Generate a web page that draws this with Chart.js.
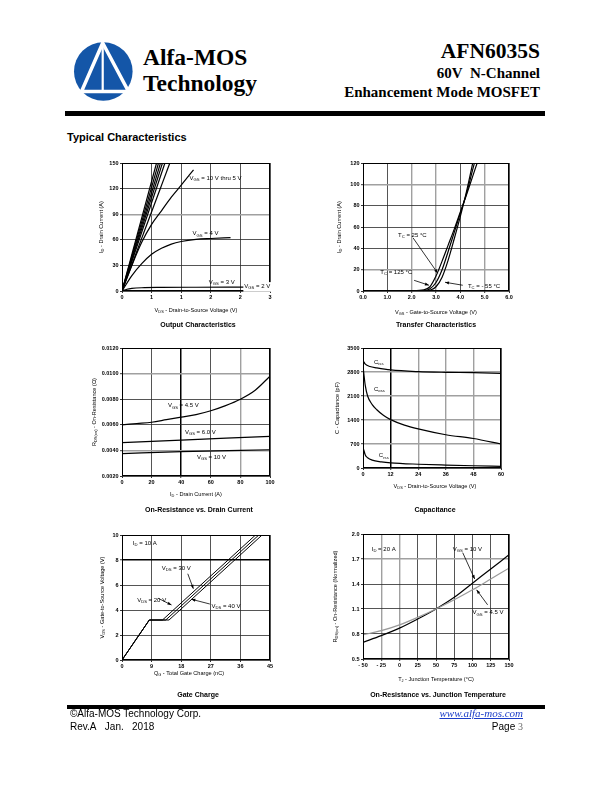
<!DOCTYPE html>
<html>
<head>
<meta charset="utf-8">
<script src="https://cdn.jsdelivr.net/npm/chart.js@4.4.0/dist/chart.umd.min.js"></script>
<style>
  body { margin: 0; width: 612px; height: 792px; position: relative; background: #fff; font-family: "Liberation Sans", Arial, sans-serif; color: #000; }
  .abs { position: absolute; white-space: nowrap; }
  .ser { font-family: "Liberation Serif", "Times New Roman", serif; font-weight: bold; }
  .cap { position: absolute; white-space: nowrap; font-weight: bold; font-size: 7px; line-height: 8px; transform: translate(-50%, -50%); }
  .box { position: absolute; }
</style>
</head>
<body>

<!-- header -->
<svg class="abs" style="left:70px;top:38px" width="70" height="70">
  <circle cx="33.3" cy="33.5" r="29.3" fill="#1456a8"/>
  <polygon points="32.7,5 11.5,53.5 58.5,53.5" fill="none" stroke="#fff" stroke-width="3.5" stroke-linejoin="miter"/>
  <line x1="32.7" y1="5" x2="32.7" y2="53.5" stroke="#fff" stroke-width="2.2"/>
</svg>
<div class="abs ser" style="left:143px;top:46px;font-size:23.5px;line-height:23.5px">Alfa-MOS</div>
<div class="abs ser" style="left:143px;top:72px;font-size:23.5px;line-height:23.5px">Technology</div>
<div class="abs ser" style="right:72px;top:41px;font-size:21.5px;line-height:21.5px">AFN6035S</div>
<div class="abs ser" style="right:72px;top:66px;font-size:15px;line-height:15px">60V&nbsp; N-Channel</div>
<div class="abs ser" style="right:72px;top:85px;font-size:15px;line-height:15px">Enhancement Mode MOSFET</div>
<div class="abs" style="left:65px;top:111px;width:480px;height:5px;background:#000"></div>
<div class="abs" style="left:67px;top:132px;font-size:11px;line-height:11px;font-weight:bold">Typical Characteristics</div>

<!-- charts -->
<div class="box" id="b1"><canvas id="c1"></canvas></div>
<div class="box" id="b2"><canvas id="c2"></canvas></div>
<div class="box" id="b3"><canvas id="c3"></canvas></div>
<div class="box" id="b4"><canvas id="c4"></canvas></div>
<div class="box" id="b5"><canvas id="c5"></canvas></div>
<div class="box" id="b6"><canvas id="c6"></canvas></div>

<div class="cap" style="left:198px;top:325px">Output Characteristics</div>
<div class="cap" style="left:436px;top:325px">Transfer Characteristics</div>
<div class="cap" style="left:199px;top:510px">On-Resistance vs. Drain Current</div>
<div class="cap" style="left:435px;top:510px">Capacitance</div>
<div class="cap" style="left:198px;top:695px">Gate Charge</div>
<div class="cap" style="left:438px;top:695px">On-Resistance vs. Junction Temperature</div>

<!-- footer -->
<div class="abs" style="left:67px;top:705px;width:478px;height:4px;background:#000"></div>
<div class="abs" style="left:70px;top:709px;font-size:10px;line-height:10px">©Alfa-MOS Technology Corp.</div>
<div class="abs" style="left:70px;top:722px;font-size:10px;line-height:10px">Rev.A&nbsp;&nbsp; Jan.&nbsp;&nbsp; 2018</div>
<div class="abs" style="right:89px;top:708px;font-size:11px;line-height:11px;font-family:'Liberation Serif',serif;font-style:italic;color:#1a3cc8;text-decoration:underline">www.alfa-mos.com</div>
<div class="abs" style="right:89px;top:722px;font-size:10px;line-height:10px">Page <span style="font-family:'Liberation Serif',serif;color:#666">3</span></div>

<script>
// --- Output Characteristics ---
const outSteepVds = [0.70, 0.74, 0.78, 0.82, 0.87, 0.97]; // VGS 10 V .. 5.5 V lines, each reaching 150 A
const outSteepId = [0, 150];
const outVds5 = [0, 0.2, 0.4, 0.6, 0.8, 1.0, 1.2, 1.45];
const outId5 = [0, 30, 57, 78, 94, 110, 124, 142];
const outVds4 = [0, 0.2, 0.4, 0.6, 0.8, 1.0, 1.2, 1.5, 1.8, 2.2];
const outId4 = [0, 18, 32, 43, 50, 55, 58, 60.5, 61.5, 62.5];
const outVds3 = [0, 0.1, 0.2, 0.4, 0.8, 1.5, 2.5];
const outId3 = [0, 2, 3, 3.8, 4.2, 4.4, 4.5];
const outVds2 = [0, 2.9];
const outId2 = [0.2, 0.3];
const outXTicks = [0, 0.6, 1.2, 1.8, 2.4, 3.0];
const outYTicks = [0, 30, 60, 90, 120, 150];

// --- Transfer Characteristics ---
const trVgs = [0, 1, 2, 2.5, 2.75, 3, 3.25, 3.5, 3.75, 4, 4.25, 4.5, 4.75];
const trId125 = [0, 0, 0.2, 1, 4, 14, 28, 43, 58, 74, 90, 107, 124];
const trId25 = [0, 0, 0.05, 0.3, 2, 8, 20, 37, 55, 73, 91, 113, 135];
const trIdM55 = [0, 0, 0, 0.1, 0.8, 4, 13, 29, 49, 70, 93, 119, 146];
const trXTicks = [0, 1, 2, 3, 4, 5, 6];
const trYTicks = [0, 20, 40, 60, 80, 100, 120];

// --- On-Resistance vs. Drain Current ---
const rdsId = [0, 10, 20, 30, 40, 50, 60, 70, 80, 90, 100];
const rds45 = [0.0060, 0.0061, 0.0062, 0.0064, 0.0066, 0.0068, 0.0071, 0.0075, 0.0080, 0.0087, 0.0098];
const rdsIdLin = [0, 40, 100];
const rds6 = [0.0046, 0.0048, 0.0051];
const rds10 = [0.00375, 0.0039, 0.00405];
const rdsXTicks = [0, 20, 40, 60, 80, 100];
const rdsYTicks = [0.002, 0.004, 0.006, 0.008, 0.010, 0.012];

// --- Capacitance ---
const capVdsIss = [0, 1, 3, 6, 12, 24, 36, 48, 60];
const capIss = [3130, 3030, 2960, 2920, 2860, 2810, 2790, 2780, 2760];
const capVdsOss = [0.2, 1, 2, 4, 6, 9, 12, 18, 24, 36, 48, 60];
const capOss = [2850, 2400, 2100, 1850, 1700, 1530, 1410, 1250, 1140, 970, 860, 700];
const capVdsRss = [0.2, 1, 2, 4, 8, 12, 24, 36, 48, 60];
const capRss = [560, 380, 300, 230, 180, 150, 110, 85, 65, 50];
const capXTicks = [0, 12, 24, 36, 48, 60];
const capYTicks = [0, 700, 1400, 2100, 2800, 3500];

// --- Gate Charge ---
const gcQ20 = [0, 8.3, 12.3, 40.6];
const gcQ30 = [0, 8.3, 13.3, 41.6];
const gcQ40 = [0, 8.3, 14.3, 42.6];
const gcVgs = [0, 3.2, 3.2, 10];
const gcXTicks = [0, 9, 18, 27, 36, 45];
const gcYTicks = [0, 2, 4, 6, 8, 10];

// --- On-Resistance vs. Junction Temperature ---
const tjTemp = [-50, -25, 0, 25, 50, 75, 100, 125, 150];
const tjR10 = [0.70, 0.78, 0.87, 0.98, 1.10, 1.24, 1.41, 1.58, 1.75];
const tjR45 = [0.79, 0.84, 0.91, 1.00, 1.10, 1.21, 1.33, 1.46, 1.59];
const tjXTicks = [-50, -25, 0, 25, 50, 75, 100, 125, 150];
const tjYTicks = [0.5, 0.8, 1.1, 1.4, 1.7, 2.0];

const FONT = '"Liberation Sans", Arial, sans-serif';
Chart.defaults.font.family = FONT;

function pts(xs, ys) {
    return xs.map((x, i) => ({ x: x, y: ys[i] }));
}

function line(data, opts) {
    return Object.assign({
        data: data,
        showLine: true,
        borderColor: '#000',
        borderWidth: 1.2,
        pointRadius: 0,
        fill: false,
        cubicInterpolationMode: 'monotone'
    }, opts || {});
}

// text with _{sub} parts
function richParts(text) {
    const out = [];
    const re = /_\{([^}]*)\}/g;
    let last = 0, m;
    while ((m = re.exec(text))) {
        if (m.index > last) out.push({ t: text.slice(last, m.index), sub: false });
        out.push({ t: m[1], sub: true });
        last = re.lastIndex;
    }
    if (last < text.length) out.push({ t: text.slice(last), sub: false });
    return out;
}

function drawRich(ctx, text, x, y, size, align, bg) {
    const parts = richParts(text);
    let total = 0;
    parts.forEach(p => {
        ctx.font = (p.sub ? size * 0.7 : size) + 'px ' + FONT;
        p.w = ctx.measureText(p.t).width;
        total += p.w;
    });
    let cx = align === 'center' ? x - total / 2 : x;
    if (bg) {
        ctx.fillStyle = '#fff';
        ctx.fillRect(cx - 1, y - size * 0.7, total + 2, size * 1.6);
    }
    ctx.fillStyle = '#000';
    ctx.textBaseline = 'middle';
    ctx.textAlign = 'left';
    parts.forEach(p => {
        ctx.font = (p.sub ? size * 0.7 : size) + 'px ' + FONT;
        ctx.fillText(p.t, cx, p.sub ? y + size * 0.3 : y);
        cx += p.w;
    });
}

const notesPlugin = {
    id: 'notes',
    afterDatasetsDraw(chart, args, opts) {
        const ctx = chart.ctx, a = chart.chartArea;
        const xs = chart.scales.x, ys = chart.scales.y;
        ctx.save();
        ctx.strokeStyle = '#000';
        ctx.lineWidth = 1;
        ctx.strokeRect(Math.round(a.left) + 0.5, Math.round(a.top) + 0.5, Math.round(a.right - a.left) - 1, Math.round(a.bottom - a.top) - 1);

        (opts.arrows || []).forEach(ar => {
            const x1 = xs.getPixelForValue(ar[0]), y1 = ys.getPixelForValue(ar[1]);
            const x2 = xs.getPixelForValue(ar[2]), y2 = ys.getPixelForValue(ar[3]);
            const ang = Math.atan2(y2 - y1, x2 - x1);
            ctx.lineWidth = 0.8;
            ctx.beginPath();
            ctx.moveTo(x1, y1);
            ctx.lineTo(x2, y2);
            ctx.stroke();
            ctx.beginPath();
            ctx.moveTo(x2, y2);
            ctx.lineTo(x2 - 4 * Math.cos(ang) + 1.5 * Math.sin(ang), y2 - 4 * Math.sin(ang) - 1.5 * Math.cos(ang));
            ctx.lineTo(x2 - 4 * Math.cos(ang) - 1.5 * Math.sin(ang), y2 - 4 * Math.sin(ang) + 1.5 * Math.cos(ang));
            ctx.closePath();
            ctx.fillStyle = '#000';
            ctx.fill();
        });

        (opts.labels || []).forEach(l => {
            drawRich(ctx, l.text, xs.getPixelForValue(l.x), ys.getPixelForValue(l.y), 6, 'left', l.bg);
        });

        drawRich(ctx, opts.xTitle, (a.left + a.right) / 2 + (opts.xShift || 0), a.bottom + opts.xOff, 5.6, 'center');
        ctx.translate(a.left - opts.yOff, (a.top + a.bottom) / 2);
        ctx.rotate(-Math.PI / 2);
        drawRich(ctx, opts.yTitle, 0, 0, 5.6, 'center');
        ctx.restore();
    }
};

function gridOpts(grey, bold) {
    return {
        drawTicks: true,
        tickLength: 2,
        tickColor: '#000',
        tickWidth: 0.8,
        color: c => {
            const v = c.tick ? c.tick.value : null;
            if (bold.includes(v)) return '#000';
            return grey.includes(v) ? '#a0a0a0' : '#2a2a2a';
        },
        lineWidth: c => {
            const v = c.tick ? c.tick.value : null;
            if (bold.includes(v)) return 1.5;
            return grey.includes(v) ? 1.4 : 0.8;
        }
    };
}

function axis(ticks, fmt, grey, bold) {
    return {
        type: 'linear',
        min: ticks[0],
        max: ticks[ticks.length - 1],
        afterBuildTicks: s => { s.ticks = ticks.map(v => ({ value: v })); },
        afterFit: s => { if (s.isHorizontal()) s.height = 40; else s.width = 40; },
        grid: gridOpts(grey || [], bold || []),
        border: { display: false },
        ticks: {
            font: { size: 5.5, weight: 'bold' },
            color: '#000',
            padding: 1.5,
            autoSkip: false,
            maxRotation: 0,
            callback: fmt
        }
    };
}

function makeChart(n, rect, datasets, xAxis, yAxis, notes) {
    const box = document.getElementById('b' + n);
    box.style.left = (rect[0] - 40) + 'px';
    box.style.top = (rect[1] - 10) + 'px';
    box.style.width = (rect[2] - rect[0] + 55) + 'px';
    box.style.height = (rect[3] - rect[1] + 50) + 'px';
    return new Chart(document.getElementById('c' + n), {
        type: 'scatter',
        data: { datasets: datasets },
        options: {
            responsive: true,
            maintainAspectRatio: false,
            animation: false,
            layout: { padding: { left: 0, top: 10, right: 15, bottom: 0 } },
            plugins: { legend: { display: false }, tooltip: { enabled: false }, notes: notes },
            scales: { x: xAxis, y: yAxis }
        },
        plugins: [notesPlugin]
    });
}

const plain = v => String(v);

// 1. Output Characteristics
makeChart(1, [122, 163, 270, 291],
    outSteepVds.map(v => line(pts([0, v], outSteepId), { cubicInterpolationMode: 'default', tension: 0 }))
        .concat([
            line(pts(outVds5, outId5)),
            line(pts(outVds4, outId4)),
            line(pts(outVds3, outId3)),
            line(pts(outVds2, outId2))
        ]),
    axis(outXTicks, v => String(Math.round(v))),
    axis(outYTicks, plain, [90]),
    {
        xTitle: 'V_{DS} - Drain-to-Source Voltage (V)', xOff: 19,
        yTitle: 'I_{D} - Drain Current (A)', yOff: 21,
        labels: [
            { x: 1.37, y: 132, text: 'V_{GS} = 10 V thru 5 V' },
            { x: 1.43, y: 67, text: 'V_{GS} = 4 V' },
            { x: 1.76, y: 10, text: 'V_{GS} = 3 V' },
            { x: 2.48, y: 5.5, text: 'V_{GS} = 2 V', bg: true }
        ]
    });

// 2. Transfer Characteristics
makeChart(2, [363, 163, 509, 291],
    [
        line(pts(trVgs, trId125)),
        line(pts(trVgs, trId25)),
        line(pts(trVgs, trIdM55))
    ],
    axis(trXTicks, v => v.toFixed(1), [2, 3, 5]),
    axis(trYTicks, plain, [20, 100]),
    {
        xTitle: 'V_{GS} - Gate-to-Source Voltage (V)', xOff: 21,
        yTitle: 'I_{D} - Drain Current (A)', yOff: 24,
        labels: [
            { x: 1.44, y: 52.5, text: 'T_{C} = 25 °C' },
            { x: 0.71, y: 17.6, text: 'T_{C} = 125 °C' },
            { x: 4.31, y: 4.4, text: 'T_{C} = - 55 °C' }
        ],
        arrows: [
            [2.06, 49.7, 3.07, 16.7],
            [2.1, 10, 2.71, 5.4],
            [4.1, 5.4, 3.37, 8.2]
        ]
    });

// 3. On-Resistance vs. Drain Current
makeChart(3, [122, 348, 270, 476],
    [
        line(pts(rdsId, rds45)),
        line(pts(rdsIdLin, rds6)),
        line(pts(rdsIdLin, rds10))
    ],
    axis(rdsXTicks, plain, [80], [40]),
    axis(rdsYTicks, v => v.toFixed(4), [0.004, 0.010]),
    {
        xTitle: 'I_{D} - Drain Current (A)', xOff: 18.3,
        yTitle: 'R_{DS(on)} - On-Resistance (Ω)', yOff: 28,
        labels: [
            { x: 31, y: 0.0075, text: 'V_{GS} = 4.5 V' },
            { x: 42.5, y: 0.0054, text: 'V_{GS} = 6.0 V' },
            { x: 50.6, y: 0.00347, text: 'V_{GS} = 10 V' }
        ]
    });

// 4. Capacitance
makeChart(4, [363, 348, 501, 468],
    [
        line(pts(capVdsIss, capIss)),
        line(pts(capVdsOss, capOss)),
        line(pts(capVdsRss, capRss))
    ],
    axis(capXTicks, plain, [24, 36, 48], [12]),
    axis(capYTicks, plain, [700, 1400, 2100, 2800]),
    {
        xTitle: 'V_{DS} - Drain-to-Source Voltage (V)', xOff: 18.4, xShift: 3,
        yTitle: 'C - Capacitance (pF)', yOff: 25.6,
        labels: [
            { x: 4.8, y: 3080, text: 'C_{iss}' },
            { x: 4.8, y: 2300, text: 'C_{oss}' },
            { x: 6.9, y: 360, text: 'C_{rss}' }
        ]
    });

// 5. Gate Charge
makeChart(5, [122, 535, 270, 660],
    [
        line(pts(gcQ20, gcVgs), { cubicInterpolationMode: 'default', tension: 0, borderWidth: 1 }),
        line(pts(gcQ30, gcVgs), { cubicInterpolationMode: 'default', tension: 0, borderWidth: 1 }),
        line(pts(gcQ40, gcVgs), { cubicInterpolationMode: 'default', tension: 0, borderWidth: 1 })
    ],
    axis(gcXTicks, plain),
    axis(gcYTicks, plain, [], [8]),
    {
        xTitle: 'Q_{G} - Total Gate Charge (nC)', xOff: 13, xShift: -7,
        yTitle: 'V_{GS} - Gate-to-Source Voltage (V)', yOff: 19.6,
        labels: [
            { x: 3.3, y: 9.36, text: 'I_{D} = 10 A' },
            { x: 12.1, y: 7.36, text: 'V_{DS} = 30 V' },
            { x: 4.6, y: 4.8, text: 'V_{DS} = 20 V' },
            { x: 27.2, y: 4.32, text: 'V_{DS} = 40 V' }
        ],
        arrows: [
            [20.0, 6.9, 21.7, 5.7],
            [11, 4.94, 15.05, 4.4],
            [26.7, 4.48, 21.1, 4.86]
        ]
    });

// 6. On-Resistance vs. Junction Temperature
makeChart(6, [363, 534, 509, 659],
    [
        line(pts(tjTemp, tjR45), { borderColor: '#9a9a9a' }),
        line(pts(tjTemp, tjR10))
    ],
    axis(tjXTicks, v => v < 0 ? '- ' + Math.abs(v) : String(v), [-25, 0]),
    axis(tjYTicks, v => v.toFixed(1), [1.7]),
    {
        xTitle: 'T_{J} - Junction Temperature (°C)', xOff: 20.7,
        yTitle: 'R_{DS(on)} - On-Resistance (Normalized)', yOff: 28,
        labels: [
            { x: -38, y: 1.82, text: 'I_{D} = 20 A' },
            { x: 73, y: 1.82, text: 'V_{GS} = 10 V' },
            { x: 100, y: 1.056, text: 'V_{GS} = 4.5 V' }
        ],
        arrows: [
            [86.6, 1.776, 103, 1.46],
            [120.7, 1.15, 105.6, 1.33]
        ]
    });
</script>
</body>
</html>
